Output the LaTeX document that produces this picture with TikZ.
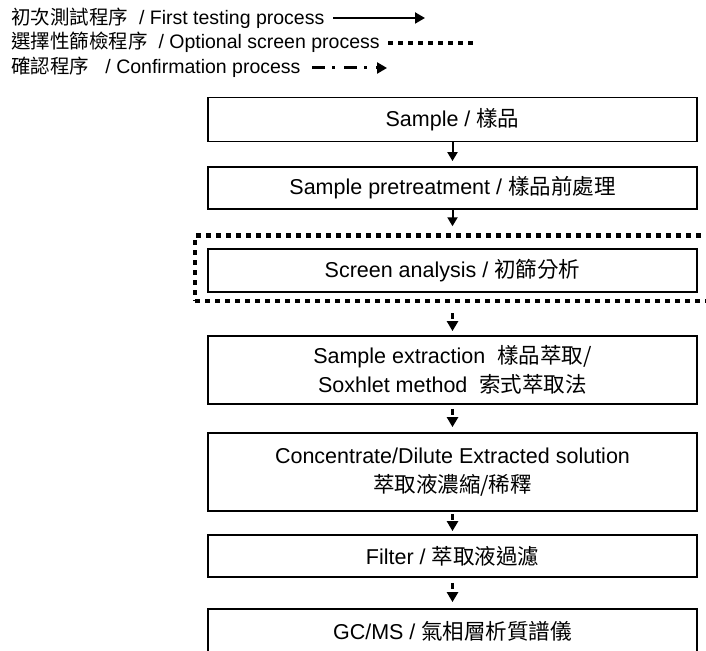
\documentclass[tikz,border=0pt]{standalone}
\usepackage{fontspec}
\setmainfont{Liberation Sans}
\newfontfamily\cjk{Noto Sans CJK TC}
\usetikzlibrary{arrows.meta}
\begin{document}
\begin{tikzpicture}[x=1pt,y=-1pt,
  box/.style={draw, line width=1.8pt, minimum width=489pt, inner sep=0pt, align=center,
    font=\fontsize{21.5}{28.5}\selectfont},
  solidarrow/.style={line width=2pt, -{Triangle[width=10pt,length=9pt]}},
  legarrow/.style={line width=2pt, -{Triangle[width=11pt,length=10pt]}},
  confarrow/.style={line width=3pt, dash pattern=on 13pt off 7pt on 3pt off 9pt,
    -{Triangle[width=11pt,length=10pt]}},
  flowconf/.style={line width=2.5pt, dash pattern=on 6pt off 30pt,
    -{Triangle[width=11pt,length=10pt]}},
  optline/.style={line width=4.5pt, dash pattern=on 5pt off 5pt},
  legend/.style={anchor=west, inner sep=0pt, font=\fontsize{19.5}{22}\selectfont}]
\useasboundingbox (0,0) rectangle (706,650);
\clip (0,0) rectangle (706,650);

% legend
\node[legend] (l1) at (11,18) {{\cjk 初次測試程序}\ \ / First testing process};
\node[legend] (l2) at (11,42) {{\cjk 選擇性篩檢程序}\ \ / Optional screen process};
\node[legend] (l3) at (11,67) {{\cjk 確認程序}\ \ \ / Confirmation process};
\coordinate (a1s) at (333,18);
\coordinate (a1e) at (425,18);
\coordinate (a2s) at (388,43);
\coordinate (a2e) at (476,43);
\coordinate (a3s) at (312,68);
\coordinate (a3e) at (387,68);
\draw[legarrow] (a1s) -- (a1e);
\draw[optline] (a2s) -- (a2e);
\draw[confarrow] (a3s) -- (a3e);

% boxes
\node[box, minimum height=44pt] (b1) at (452.5,119.5) {Sample / {\cjk 樣品}};
\node[box, minimum height=42pt] (b2) at (452.5,188) {Sample pretreatment / {\cjk 樣品前處理}};
\node[draw, optline, minimum width=520pt, minimum height=65.5pt, inner sep=0pt] (opt) at (455,268.25) {};
\node[box, minimum height=43pt] (b3) at (452.5,270.5) {Screen analysis / {\cjk 初篩分析}};
\node[box, minimum height=68pt] (b4) at (452.5,370) {Sample extraction\ \ {\cjk 樣品萃取/}\\Soxhlet method\ \ {\cjk 索式萃取法}};
\node[box, minimum height=78pt] (b5) at (452.5,472) {Concentrate/Dilute Extracted solution\\{\cjk 萃取液濃縮/稀釋}};
\node[box, minimum height=42pt] (b6) at (452.5,556) {Filter / {\cjk 萃取液過濾}};
\node[box, minimum height=45pt] (b7) at (452.5,631.5) {GC/MS / {\cjk 氣相層析質譜儀}};

% connectors
\draw[solidarrow] (b1.south) -- ([yshift=5pt]b2.north);
\draw[solidarrow] (b2.south) -- ([yshift=7pt]b2.south |- opt.north);
\draw[flowconf] ([yshift=-10pt]b2.south |- opt.south) -- ([yshift=4pt]b4.north);
\draw[flowconf] ([yshift=-4pt]b4.south) -- ([yshift=5pt]b5.north);
\draw[flowconf] ([yshift=-2pt]b5.south) -- ([yshift=3pt]b6.north);
\draw[flowconf] ([yshift=-5pt]b6.south) -- ([yshift=6pt]b7.north);
\end{tikzpicture}
\end{document}
